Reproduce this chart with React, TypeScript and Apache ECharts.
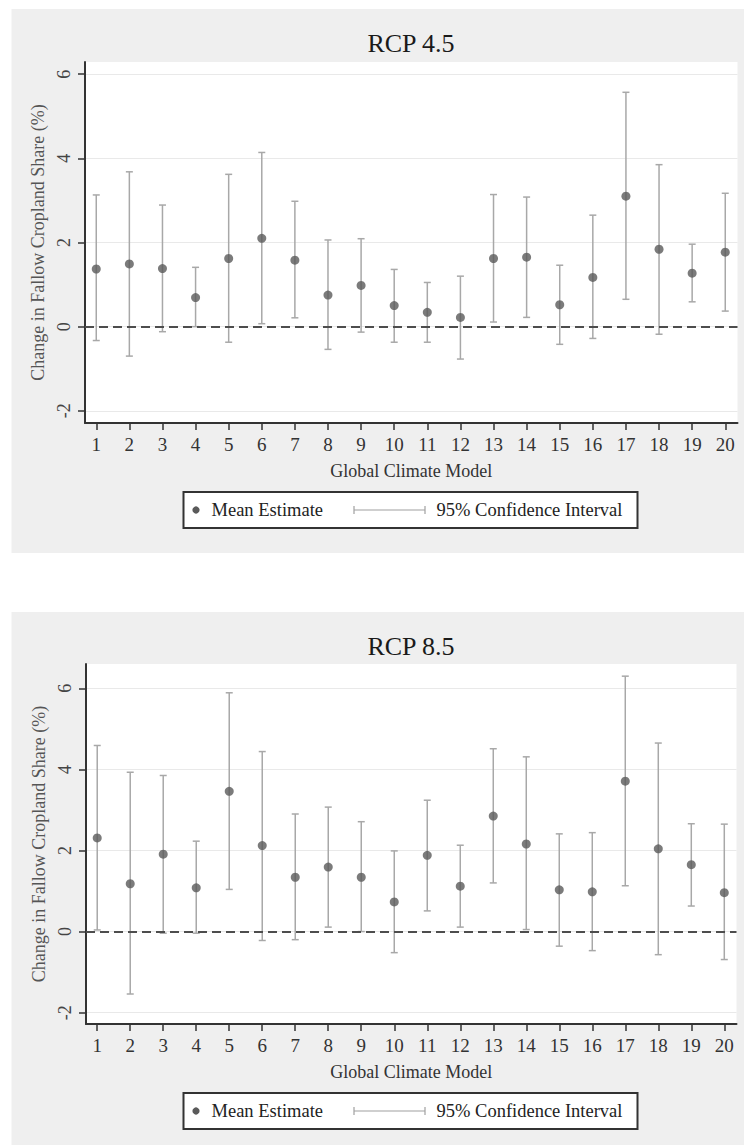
import React, { useEffect, useRef } from "react";
import * as echarts from "echarts";

// ---------- data ----------
const models = ["1","2","3","4","5","6","7","8","9","10","11","12","13","14","15","16","17","18","19","20"];

const rcp45Mean = [1.37, 1.49, 1.38, 0.69, 1.62, 2.10, 1.58, 0.75, 0.98, 0.50, 0.34, 0.22, 1.62, 1.65, 0.52, 1.17, 3.10, 1.84, 1.27, 1.77];
const rcp45Low  = [-0.33, -0.70, -0.12, 0.00, -0.37, 0.07, 0.21, -0.54, -0.13, -0.37, -0.37, -0.77, 0.11, 0.22, -0.42, -0.28, 0.65, -0.18, 0.59, 0.37];
const rcp45High = [3.13, 3.68, 2.89, 1.41, 3.62, 4.14, 2.98, 2.06, 2.09, 1.36, 1.05, 1.20, 3.14, 3.08, 1.46, 2.65, 5.57, 3.85, 1.96, 3.17];

const rcp85Mean = [2.31, 1.18, 1.91, 1.08, 3.46, 2.12, 1.34, 1.59, 1.34, 0.73, 1.88, 1.12, 2.85, 2.16, 1.03, 0.98, 3.71, 2.04, 1.65, 0.96];
const rcp85Low  = [0.04, -1.54, -0.04, -0.04, 1.04, -0.22, -0.20, 0.11, 0.00, -0.52, 0.51, 0.11, 1.20, 0.05, -0.36, -0.47, 1.13, -0.57, 0.63, -0.69];
const rcp85High = [4.59, 3.93, 3.85, 2.23, 5.89, 4.44, 2.90, 3.07, 2.71, 1.99, 3.24, 2.13, 4.51, 4.31, 2.41, 2.44, 6.30, 4.65, 2.66, 2.65];

const yTicks = [-2, 0, 2, 4, 6];
const panelTitles = ["RCP 4.5", "RCP 8.5"];
const legendLabels = ["Mean Estimate", "95% Confidence Interval"];
const xTitle = "Global Climate Model";
const yTitle = "Change in Fallow Cropland Share (%)";

const FONT = "'Liberation Serif', 'Times New Roman', serif";

const panels = [
  { mean: rcp45Mean, low: rcp45Low, high: rcp45High, grid: { left: 85, top: 62, width: 652.5, height: 361 }, yMin: -2.29, yMax: 6.29, titleY: 43, legendTop: 492 },
  { mean: rcp85Mean, low: rcp85Low, high: rcp85High, grid: { left: 86, top: 664, width: 650.5, height: 360 }, yMin: -2.28, yMax: 6.6, titleY: 646, legendTop: 1093 },
];

const xTickValues = models.map((_, i) => i + 1);

function buildOption() {
  const grids: any[] = [];
  const xAxes: any[] = [];
  const yAxes: any[] = [];
  const series: any[] = [];
  const graphics: any[] = [
    // white page strips around the grey panels
    { type: "rect", shape: { x: 0, y: 0, width: 11.5, height: 1145 }, style: { fill: "#fff" } },
    { type: "rect", shape: { x: 0, y: 0, width: 744, height: 9 }, style: { fill: "#fff" } },
    { type: "rect", shape: { x: 0, y: 553, width: 744, height: 59 }, style: { fill: "#fff" } },
  ];

  panels.forEach((p, k) => {
    grids.push({ ...p.grid, show: true, backgroundColor: "#ffffff", borderWidth: 0, containLabel: false });
    xAxes.push({
      type: "value",
      gridIndex: k,
      min: 0.66,
      max: 20.37,
      axisLine: { show: true, onZero: false, lineStyle: { color: "#333", width: 2 } },
      axisTick: { show: true, length: 7, customValues: xTickValues, lineStyle: { color: "#333", width: 1.5 } },
      axisLabel: {
        customValues: xTickValues,
        formatter: (v: number) => models[Math.round(v) - 1] ?? "",
        fontFamily: FONT,
        fontSize: 19,
        color: "#333",
        margin: 12,
      },
      splitLine: { show: false },
      name: xTitle,
      nameLocation: "middle",
      nameGap: 39,
      nameTextStyle: { fontFamily: FONT, fontSize: 18, color: "#333" },
    });
    yAxes.push({
      type: "value",
      gridIndex: k,
      min: p.yMin,
      max: p.yMax,
      axisLine: { show: true, onZero: false, lineStyle: { color: "#333", width: 2 } },
      axisTick: { show: true, length: 7, customValues: yTicks, lineStyle: { color: "#333", width: 1.5 } },
      axisLabel: {
        customValues: yTicks,
        rotate: 90,
        fontFamily: FONT,
        fontSize: 18,
        color: "#444",
        margin: 12,
      },
      splitLine: { show: true, lineStyle: { color: "#e9e9e9", width: 1.2 } },
      name: yTitle,
      nameLocation: "middle",
      nameGap: 33,
      nameTextStyle: { fontFamily: FONT, fontSize: 18, color: "#555" },
    });

    series.push({
      type: "custom",
      xAxisIndex: k,
      yAxisIndex: k,
      data: models.map((_, i) => [i + 1, p.low[i], p.high[i]]),
      encode: { x: 0, y: [1, 2] },
      silent: true,
      z: 2,
      renderItem: (params: any, api: any) => {
        const x = api.value(0);
        const lo = api.coord([x, api.value(1)]);
        const hi = api.coord([x, api.value(2)]);
        const cap = 3.5;
        const style = { stroke: "#a8a8a8", lineWidth: 1.5 };
        return {
          type: "group",
          children: [
            { type: "line", shape: { x1: lo[0], y1: lo[1], x2: hi[0], y2: hi[1] }, style },
            { type: "line", shape: { x1: lo[0] - cap, y1: lo[1], x2: lo[0] + cap, y2: lo[1] }, style },
            { type: "line", shape: { x1: hi[0] - cap, y1: hi[1], x2: hi[0] + cap, y2: hi[1] }, style },
          ],
        };
      },
    });
    series.push({
      type: "scatter",
      xAxisIndex: k,
      yAxisIndex: k,
      data: models.map((_, i) => [i + 1, p.mean[i]]),
      symbol: "circle",
      symbolSize: 9,
      itemStyle: { color: "#5a5a5a" },
      z: 4,
      markLine: {
        silent: true,
        symbol: ["none", "none"],
        label: { show: false },
        lineStyle: { color: "#4d4d4d", width: 2.2, type: [9, 5] },
        data: [{ yAxis: 0 }],
      },
    });

    // title
    graphics.push({
      type: "text",
      x: 411,
      y: p.titleY,
      style: { text: panelTitles[k], font: `26px ${FONT}`, fill: "#1a1a1a", align: "center", verticalAlign: "middle" },
    });

    // legend
    const t = p.legendTop;
    const cy = t + 18;
    graphics.push({
      type: "group",
      children: [
        { type: "rect", shape: { x: 183.5, y: t, width: 454, height: 36 }, style: { fill: "#fff", stroke: "#333", lineWidth: 2 } },
        { type: "circle", shape: { cx: 196, cy, r: 3.6 }, style: { fill: "#5a5a5a" } },
        { type: "text", x: 211.5, y: cy, style: { text: legendLabels[0], font: `18.5px ${FONT}`, fill: "#222", align: "left", verticalAlign: "middle" } },
        { type: "line", shape: { x1: 354, y1: cy, x2: 425, y2: cy }, style: { stroke: "#a0a0a0", lineWidth: 1.2 } },
        { type: "line", shape: { x1: 354, y1: cy - 4, x2: 354, y2: cy + 4 }, style: { stroke: "#a0a0a0", lineWidth: 1.2 } },
        { type: "line", shape: { x1: 425, y1: cy - 4, x2: 425, y2: cy + 4 }, style: { stroke: "#a0a0a0", lineWidth: 1.2 } },
        { type: "text", x: 436.5, y: cy, style: { text: legendLabels[1], font: `18.5px ${FONT}`, fill: "#222", align: "left", verticalAlign: "middle" } },
      ],
    });
  });

  return {
    animation: false,
    backgroundColor: "#efefef",
    textStyle: { fontFamily: FONT },
    grid: grids,
    xAxis: xAxes,
    yAxis: yAxes,
    series,
    graphic: graphics,
  };
}

export default function App() {
  const ref = useRef<HTMLDivElement>(null);
  useEffect(() => {
    if (!ref.current) return;
    const chart = echarts.init(ref.current, undefined, { renderer: "svg" });
    chart.setOption(buildOption() as any);
    return () => chart.dispose();
  }, []);
  return (
    <div style={{ position: "absolute", left: 0, top: 0, width: 744, height: 1145 }}>
      <div ref={ref} style={{ width: 744, height: 1145 }} />
    </div>
  );
}
